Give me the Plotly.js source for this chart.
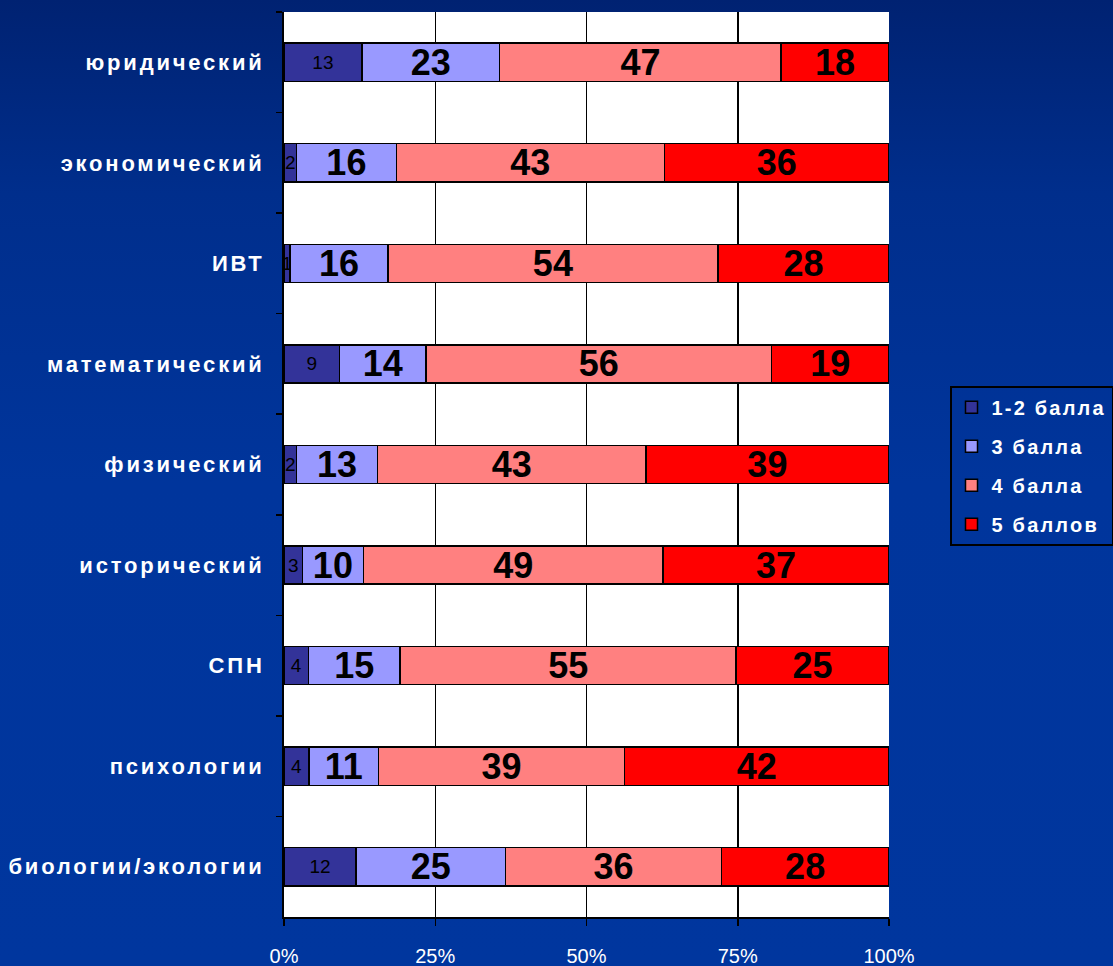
<!DOCTYPE html>
<html>
<head>
<meta charset="utf-8">
<script src="https://cdn.plot.ly/plotly-3.0.1.min.js"></script>
<style>
html,body{margin:0;padding:0;}
body{width:1113px;height:966px;background:linear-gradient(180deg,#002272 0%,#002e8c 20%,#00359c 50%,#00369e 100%);}
#chart{width:1113px;height:966px;}
.ytick text{letter-spacing:2.8px;}
.legendtext{letter-spacing:2.2px;}
</style>
</head>
<body>
<div id="chart"></div>
<script>
const categories = ["юридический","экономический","ИВТ","математический","физический","исторический","СПН","психологии","биологии/экологии"];
const seriesNames = ["1-2 балла","3 балла","4 балла","5 баллов"];
const s1 = [13, 2, 1, 9, 2, 3, 4, 4, 12];
const s3 = [23, 16, 16, 14, 13, 10, 15, 11, 25];
const s4 = [47, 43, 54, 56, 43, 49, 55, 39, 36];
const s5 = [18, 36, 28, 19, 39, 37, 25, 42, 28];
const xTickVals = [0, 25, 50, 75, 100];
const xTickText = ["0%","25%","50%","75%","100%"];

const colors = ["#333399","#9999FF","#FF8080","#FF0000"];
const values = [s1, s3, s4, s5];
const numFont = "Liberation Sans Narrow, Arial Narrow, Liberation Sans, Arial, sans-serif";

const traces = values.map((v, i) => ({
  type: "bar",
  orientation: "h",
  name: seriesNames[i],
  legendgroup: "g" + i,
  y: categories,
  x: v,
  text: v.map(String),
  texttemplate: "%{text}",
  textposition: "inside",
  insidetextanchor: "middle",
  textangle: 0,
  constraintext: "none",
  cliponaxis: false,
  textfont: {family: numFont, size: i === 0 ? 19 : 36, color: "#000000", weight: i === 0 ? "normal" : "bold"},
  marker: {color: colors[i], line: {color: "#000000", width: 1.5}},
  hoverinfo: "x+y+name"
}));

const layout = {
  width: 1113, height: 966,
  margin: {l: 284, r: 224, t: 12, b: 49, autoexpand: false},
  paper_bgcolor: "rgba(0,0,0,0)",
  plot_bgcolor: "#FFFFFF",
  barmode: "stack",
  barnorm: "percent",
  bargap: 0.62,
  showlegend: true,
  legend: {
    x: 1.1, xanchor: "left", y: 0.587, yanchor: "top",
    bgcolor: "rgba(0,0,0,0)", bordercolor: "#000000", borderwidth: 2,
    font: {family: "Liberation Sans, Arial, sans-serif", size: 20, color: "#FFFFFF", weight: "bold"},
    tracegroupgap: 10, traceorder: "grouped"
  },
  xaxis: {
    range: [0, 100], tickvals: xTickVals, ticktext: xTickText,
    showgrid: true, gridcolor: "#000000", gridwidth: 1.5,
    showline: true, linecolor: "#000000", linewidth: 1.5,
    ticks: "outside", ticklen: 7, tickcolor: "#000000", tickwidth: 1.5,
    ticklabelstandoff: 13,
    tickfont: {family: numFont, size: 20, color: "#FFFFFF"},
    zeroline: false, fixedrange: true
  },
  yaxis: {
    type: "category", categoryorder: "array", categoryarray: categories,
    autorange: "reversed",
    showgrid: false, showline: true, linecolor: "#000000", linewidth: 2,
    ticks: "outside", tickson: "boundaries", ticklen: 6, tickcolor: "#000000", tickwidth: 1.5,
    ticklabelstandoff: 13,
    tickfont: {family: "Liberation Sans, Arial, sans-serif", size: 22, color: "#FFFFFF", weight: "bold"},
    fixedrange: true
  }
};

Plotly.newPlot("chart", traces, layout, {displayModeBar: false, staticPlot: true});
</script>
</body>
</html>
